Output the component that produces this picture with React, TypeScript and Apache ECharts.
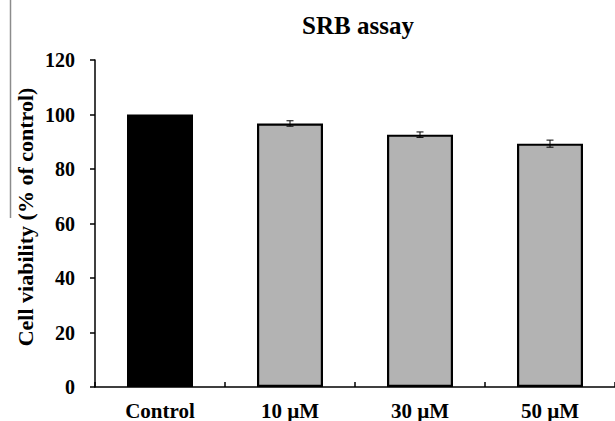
import React, { useEffect, useRef } from "react";
import * as echarts from "echarts";

const categories = ["Control", "10 µM", "30 µM", "50 µM"];
const values = [100, 96.7, 92.6, 89.3];
const errors = [0, 1.0, 1.0, 1.3];
const barColors = ["#000000", "#b3b3b3", "#b3b3b3", "#b3b3b3"];
const yTicks = { min: 0, max: 120, interval: 20 };
const yAxisTitle = "Cell viability (% of control)";

const FONT = "'Liberation Serif', 'Times New Roman', serif";

export default function App() {
  const ref = useRef<HTMLDivElement>(null);
  useEffect(() => {
    if (!ref.current) return;
    const chart = echarts.init(ref.current, undefined, { renderer: "svg" });
    chart.setOption({
      animation: false,
      backgroundColor: "#ffffff",
      title: {
        text: "SRB assay",
        left: 353,
        top: 8,
        textAlign: "center",
        textStyle: { fontFamily: FONT, fontWeight: "bold", fontSize: 25, color: "#000" },
      },
      grid: { left: 95, right: 0, top: 60, bottom: 34 },
      xAxis: {
        type: "category",
        data: categories,
        boundaryGap: true,
        axisLine: { lineStyle: { color: "#000", width: 1.5 } },
        axisTick: { show: true, inside: true, length: 5, lineStyle: { color: "#000", width: 1.5 } },
        axisLabel: { fontFamily: FONT, fontWeight: "bold", fontSize: 21, color: "#000", margin: 13 },
      },
      yAxis: {
        type: "value",
        min: yTicks.min,
        max: yTicks.max,
        interval: yTicks.interval,
        axisLine: { show: true, lineStyle: { color: "#000", width: 1.5 } },
        axisTick: { show: true, inside: false, length: 5, lineStyle: { color: "#000", width: 1.5 } },
        axisLabel: { fontFamily: FONT, fontWeight: "bold", fontSize: 20, color: "#000", margin: 20 },
        splitLine: { show: false },
      },
      series: [
        {
          type: "bar",
          barWidth: 66,
          data: values.map((v, i) => ({
            value: v,
            itemStyle: { color: barColors[i], borderColor: "#000", borderWidth: 2.2 },
          })),
        },
        {
          type: "custom",
          data: values.map((v, i) => [i, v, errors[i]]),
          renderItem: (params: any, api: any) => {
            const idx = api.value(0);
            const v = api.value(1);
            const e = api.value(2);
            if (!e) return null;
            const hi = api.coord([idx, v + e]);
            const lo = api.coord([idx, v - e]);
            const w = 3.5;
            const style = { stroke: "#000", lineWidth: 1 };
            return {
              type: "group",
              children: [
                { type: "line", shape: { x1: hi[0], y1: hi[1], x2: lo[0], y2: lo[1] }, style },
                { type: "line", shape: { x1: hi[0] - w, y1: hi[1], x2: hi[0] + w, y2: hi[1] }, style },
                { type: "line", shape: { x1: lo[0] - w, y1: lo[1], x2: lo[0] + w, y2: lo[1] }, style },
              ],
            };
          },
          z: 10,
        },
      ],
      graphic: [
        {
          type: "line",
          shape: { x1: 10.5, y1: 0, x2: 10.5, y2: 218 },
          style: { stroke: "#8c8c8c", lineWidth: 1.5 },
        },
        {
          type: "text",
          x: 25,
          y: 217,
          rotation: Math.PI / 2,
          style: {
            text: yAxisTitle,
            fontFamily: FONT,
            fontWeight: "bold",
            fontSize: 22,
            fill: "#000",
            align: "center",
            verticalAlign: "middle",
          },
        },
      ],
    });
    return () => chart.dispose();
  }, []);
  return (
    <div
      ref={ref}
      style={{ position: "fixed", left: 0, top: 0, width: 615, height: 421, background: "#fff" }}
    />
  );
}
